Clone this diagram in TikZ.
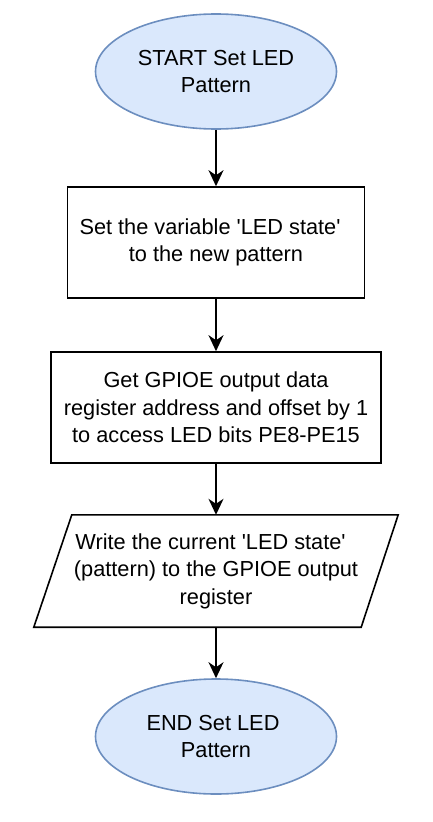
\documentclass[tikz,border=0pt]{standalone}
\usepackage{fontspec}
\setmainfont{Liberation Sans}
\usetikzlibrary{shapes.geometric,arrows.meta,calc}
\definecolor{termfill}{HTML}{DAE8FC}
\definecolor{termdraw}{HTML}{6C8EBF}
\begin{document}
\begin{tikzpicture}[x=1pt,y=-1pt,
  every node/.style={font=\fontsize{21.75}{27.5}\selectfont, align=center, inner sep=0pt},
  term/.style={ellipse, draw=termdraw, fill=termfill, line width=1.6pt, minimum width=241pt, minimum height=115pt},
  procbox/.style={rectangle, draw=black, line width=1.6pt, minimum height=111pt},
  iobox/.style={rectangle, minimum width=364pt, minimum height=112pt},
  outline/.style={draw=black, line width=1.6pt, line join=miter},
  arr/.style={draw=black, line width=1.6pt, -{Stealth[length=16pt,width=15pt,inset=5pt]}}
]
\useasboundingbox (0,0) rectangle (432,822);
\node[term] (start) at (216,71.5) {START Set LED\\Pattern};
\node[procbox, minimum width=297pt] (setvar) at (216,242.5) {Set the variable \textquotesingle LED state\textquotesingle\kern12pt\\to the new pattern};
\node[procbox, minimum width=330pt] (getaddr) at (216,407.5) {Get GPIOE output data\\register address and offset by 1\\to access LED bits PE8-PE15};
\node[iobox] (write) at (216,571) {Write the current \textquotesingle LED state\textquotesingle\kern11pt\\(pattern) to the GPIOE output\\register};
\draw[outline] ($(write.north west)+(38,0)$) -- (write.north east) -- ($(write.south east)+(-37,0)$) -- (write.south west) -- cycle;
\node[term] (finish) at (216,736.5) {END Set LED\kern6pt\\Pattern};
\draw[arr] (start) -- (setvar);
\draw[arr] (setvar) -- (getaddr);
\draw[arr] (getaddr) -- (write);
\draw[arr] (write) -- (finish);
\end{tikzpicture}
\end{document}
